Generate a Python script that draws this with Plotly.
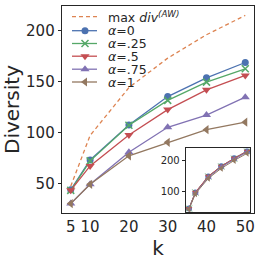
import plotly.graph_objects as go

k = [5, 10, 20, 30, 40, 50]
max_div = [47, 97, 144, 173, 196, 215]
div_a0 = [43.5, 72.8, 107.3, 135.2, 153.6, 168.7]
div_a25 = [43, 72, 107, 131.5, 149.4, 162.5]
div_a5 = [43, 67, 97.5, 122.4, 141.8, 156]
div_a75 = [30, 49, 80.4, 105, 117, 134.6]
div_a1 = [30, 49, 77, 90.2, 102.7, 110]

inset_a0 = [46, 97, 148, 181, 206, 229]
inset_a25 = [46, 97, 148, 180, 205, 228]
inset_a5 = [46, 98, 149, 181, 206, 229]
inset_a75 = [45, 95, 145, 178, 203, 226]
inset_a1 = [44, 93, 142, 174, 199, 222]

x_ticks = [5, 10, 20, 30, 40, 50]
y_ticks = [50, 100, 150, 200]
inset_y_ticks = [100, 200]

BLUE = "#4C72B0"
GREEN = "#55A868"
RED = "#C44E52"
PURPLE = "#8172B3"
BROWN = "#937860"
ORANGE = "#DD8452"

max_name = "max <i>div</i><sup><i>(AW)</i></sup>"
series = [
    ("<i>α</i>=0", div_a0, inset_a0, BLUE, "circle", 7),
    ("<i>α</i>=.25", div_a25, inset_a25, GREEN, "x-thin-open", 7),
    ("<i>α</i>=.5", div_a5, inset_a5, RED, "triangle-down", 8),
    ("<i>α</i>=.75", div_a75, inset_a75, PURPLE, "triangle-up", 8),
    ("<i>α</i>=1", div_a1, inset_a1, BROWN, "triangle-left", 8),
]

fig = go.Figure()
fig.add_trace(go.Scatter(x=k, y=max_div, mode="lines", name=max_name, showlegend=False,
                         line=dict(color=ORANGE, width=1.3, dash="4px,3px"), xaxis="x", yaxis="y"))
for name, main, _, col, sym, sz in series:
    fig.add_trace(go.Scatter(x=k, y=main, mode="lines+markers", name=name, showlegend=False,
                             line=dict(color=col, width=1.3),
                             marker=dict(symbol=sym, size=sz, color=col,
                                         line=dict(color=col, width=1.5 if "x" in sym else 0)),
                             xaxis="x", yaxis="y"))
for name, _, ins, col, sym, sz in series:
    fig.add_trace(go.Scatter(x=k, y=ins, mode="lines+markers", showlegend=False,
                             line=dict(color=col, width=1),
                             marker=dict(symbol=sym, size=6, color=col,
                                         line=dict(color=col, width=1 if "x" in sym else 0)),
                             xaxis="x2", yaxis="y2"))

# compact legend drawn on an overlay axis measured in pixels of the plot area
leg_rows = [16.7, 30.7, 43.5, 56.2, 69.2, 82.0]
leg_x0, leg_x1, leg_xm, leg_xt = 72, 97, 85, 106
fig.add_trace(go.Scatter(x=[leg_x0, leg_x1], y=[leg_rows[0]] * 2, mode="lines", showlegend=False,
                         hoverinfo="skip", line=dict(color=ORANGE, width=1.3, dash="4px,3px"),
                         xaxis="x3", yaxis="y3"))
for (name, _, _, col, sym, sz), ry in zip(series, leg_rows[1:]):
    fig.add_trace(go.Scatter(x=[leg_x0, leg_x1], y=[ry, ry], mode="lines", showlegend=False,
                             hoverinfo="skip", line=dict(color=col, width=1.3),
                             xaxis="x3", yaxis="y3"))
    fig.add_trace(go.Scatter(x=[leg_xm], y=[ry], mode="markers", showlegend=False, hoverinfo="skip",
                             marker=dict(symbol=sym, size=sz, color=col,
                                         line=dict(color=col, width=1.5 if "x" in sym else 0)),
                             xaxis="x3", yaxis="y3"))
names = [max_name] + [s[0] for s in series]
for nm, ry in zip(names, leg_rows):
    fig.add_annotation(x=leg_xt, y=ry, xref="x3", yref="y3", text=nm, showarrow=False,
                       xanchor="left", yanchor="middle", font=dict(size=12.5, color="#262626"))

axcol = "#262626"
fig.update_layout(
    width=262, height=262,
    margin=dict(l=62, r=8, t=6, b=49, autoexpand=False),
    paper_bgcolor="white", plot_bgcolor="white",
    font=dict(family="DejaVu Sans", color=axcol),
    showlegend=False,
    xaxis=dict(domain=[0, 1], range=[2.75, 52.25], tickvals=x_ticks, showgrid=False, zeroline=False,
               showline=True, mirror=True, linecolor=axcol, linewidth=1.3, automargin=False,
               ticks="", tickfont=dict(size=15),
               title=dict(text="k", font=dict(size=20), standoff=2)),
    yaxis=dict(domain=[0, 1], range=[20.75, 224.25], tickvals=y_ticks, showgrid=False, zeroline=False,
               showline=True, mirror=True, linecolor=axcol, linewidth=1.3, automargin=False,
               ticks="outside", ticklen=3, tickcolor=axcol, tickfont=dict(size=15),
               title=dict(text="Diversity", font=dict(size=20), standoff=4)),
    xaxis2=dict(domain=[0.646, 0.979], anchor="y2", range=[2.75, 52.25], showgrid=False, zeroline=False,
                showticklabels=False, showline=True, mirror=True, linecolor=axcol, linewidth=1.3),
    yaxis2=dict(domain=[0.005, 0.3125], anchor="x2", range=[35, 238], tickvals=inset_y_ticks,
                showgrid=False, zeroline=False, showline=True, mirror=True, linecolor=axcol, linewidth=1.3,
                ticks="outside", ticklen=3, tickcolor=axcol, tickfont=dict(size=10)),
    xaxis3=dict(domain=[0, 1], anchor="y3", overlaying="x", range=[62, 254], visible=False, fixedrange=True),
    yaxis3=dict(domain=[0, 1], anchor="x3", overlaying="y", range=[213, 6], visible=False, fixedrange=True),
)
fig.write_html("out.html", config={"displayModeBar": False, "staticPlot": True},
               post_script="document.body.style.margin='0';document.body.style.padding='0';")
